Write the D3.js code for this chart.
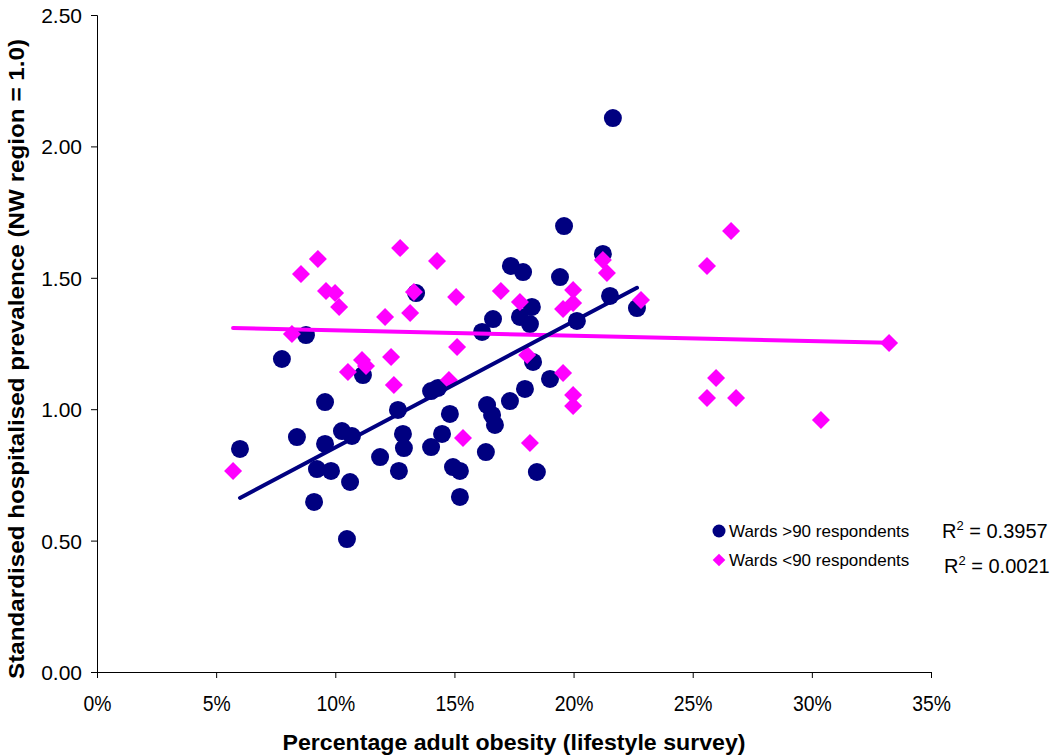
<!DOCTYPE html>
<html>
<head>
<meta charset="utf-8">
<script src="https://cdn.jsdelivr.net/npm/d3@7"></script>
<style>
  html, body { margin: 0; padding: 0; background: #fff; }
  svg { display: block; font-family: "Liberation Sans", Arial, sans-serif; }
</style>
</head>
<body>
<svg id="chart" width="1056" height="755"></svg>
<script>
// Wards with more than 90 survey respondents: obesity share (fraction) and standardised prevalence
const largeObesity = [0.0600, 0.0776, 0.0877, 0.0839, 0.0923, 0.0911, 0.0957, 0.0957, 0.0982, 0.1028,
  0.1070, 0.1049, 0.1062, 0.1116, 0.1188, 0.1263, 0.1267, 0.1284, 0.1288, 0.1339,
  0.1402, 0.1402, 0.1431, 0.1448, 0.1481, 0.1494, 0.1523, 0.1523, 0.1616, 0.1632,
  0.1637, 0.1658, 0.1670, 0.1662, 0.1733, 0.1737, 0.1775, 0.1788, 0.1796, 0.1817,
  0.1825, 0.1830, 0.1846, 0.1901, 0.1943, 0.1960, 0.2014, 0.2123, 0.2153, 0.2165, 0.2266];
const largePrevalence = [0.849, 1.191, 1.282, 0.894, 0.772, 0.647, 1.027, 0.868, 0.765, 0.917,
  0.898, 0.506, 0.723, 1.130, 0.818, 0.997, 0.765, 0.906, 0.852, 1.442,
  0.856, 1.069, 1.081, 0.906, 0.982, 0.780, 0.765, 0.666, 1.294, 0.837,
  1.016, 0.978, 0.940, 1.343, 1.031, 1.545, 1.351, 1.522, 1.077, 1.324,
  1.389, 1.180, 0.761, 1.115, 1.503, 1.697, 1.336, 1.591, 1.431, 2.108, 1.385];

// Wards with fewer than 90 survey respondents
const smallObesity = [0.0571, 0.0818, 0.0856, 0.0927, 0.0961, 0.0999, 0.1016, 0.1053, 0.1112, 0.1129,
  0.1209, 0.1234, 0.1246, 0.1272, 0.1314, 0.1330, 0.1427, 0.1477, 0.1507, 0.1511,
  0.1536, 0.1695, 0.1775, 0.1805, 0.1817, 0.1956, 0.1956, 0.1998, 0.1998, 0.1998,
  0.1998, 0.2123, 0.2140, 0.2283, 0.2560, 0.2661, 0.2598, 0.2560, 0.2682, 0.3038, 0.3324];
const smallPrevalence = [0.765, 1.286, 1.514, 1.572, 1.450, 1.442, 1.389, 1.142, 1.187, 1.164,
  1.351, 1.199, 1.092, 1.613, 1.366, 1.446, 1.564, 1.111, 1.427, 1.237,
  0.890, 1.450, 1.408, 1.206, 0.871, 1.138, 1.381, 1.404, 1.454, 1.054,
  1.012, 1.568, 1.518, 1.416, 1.545, 1.678, 1.119, 1.043, 1.043, 0.959, 1.252];

const xTicks = [0, 0.05, 0.10, 0.15, 0.20, 0.25, 0.30, 0.35];
const yTicks = [0, 0.5, 1.0, 1.5, 2.0, 2.5];

const seriesNames = ["Wards >90 respondents", "Wards <90 respondents"];
const rSquaredLabels = ["0.3957", "0.0021"];
const xTitle = "Percentage adult obesity (lifestyle survey)";
const yTitle = "Standardised hospitalised prevalence (NW region = 1.0)";

const NAVY = "#000080", MAGENTA = "#FF00FF";

const svg = d3.select("#chart");
const x = d3.scaleLinear().domain([0, 0.35]).range([97, 931]);
const y = d3.scaleLinear().domain([0, 2.5]).range([672, 15]);

// Axes
const xAxis = svg.append("g").attr("transform", `translate(0,${y(0)})`)
  .call(d3.axisBottom(x).tickValues(xTicks).tickFormat(d3.format(".0%")).tickSize(6).tickPadding(17));
const yAxis = svg.append("g").attr("transform", `translate(${x(0)},0)`)
  .call(d3.axisLeft(y).tickValues(yTicks).tickFormat(d3.format(".2f")).tickSize(6).tickPadding(9));

[xAxis, yAxis].forEach(g => {
  g.select(".domain").attr("stroke", "#000").attr("stroke-width", 1);
  g.selectAll(".tick line").attr("stroke", "#000");
  g.selectAll("text").attr("fill", "#000").attr("font-family", "Liberation Sans, Arial, sans-serif");
});
yAxis.selectAll("text").attr("font-size", 21).attr("dy", "0.36em");
xAxis.selectAll("text").attr("font-size", 22)
  .attr("transform", "scale(0.88,1)")
  .attr("x", 0);

// Axis titles
svg.append("text").attr("x", 514).attr("y", 750).attr("text-anchor", "middle")
  .attr("font-size", 22).attr("font-weight", "bold")
  .attr("textLength", 463).attr("lengthAdjust", "spacingAndGlyphs").text(xTitle);
svg.append("text").attr("transform", `translate(24,359) rotate(-90)`).attr("text-anchor", "middle")
  .attr("font-size", 22).attr("font-weight", "bold")
  .attr("textLength", 640).attr("lengthAdjust", "spacingAndGlyphs").text(yTitle);

// Least-squares trend line
function fit(xs, ys) {
  const n = xs.length, mx = d3.mean(xs), my = d3.mean(ys);
  let sxy = 0, sxx = 0;
  for (let i = 0; i < n; i++) { sxy += (xs[i] - mx) * (ys[i] - my); sxx += (xs[i] - mx) ** 2; }
  const b = sxy / sxx, a = my - b * mx;
  const [x0, x1] = d3.extent(xs);
  return [[x0, a + b * x0], [x1, a + b * x1]];
}

const large = largeObesity.map((v, i) => ({ x: v, y: largePrevalence[i] }));
const small = smallObesity.map((v, i) => ({ x: v, y: smallPrevalence[i] }));

svg.append("g").selectAll("circle").data(large).join("circle")
  .attr("cx", d => x(d.x)).attr("cy", d => y(d.y)).attr("r", 9).attr("fill", NAVY);

const diamond = d3.symbol().type(d3.symbolSquare).size(162);
svg.append("g").selectAll("path").data(small).join("path")
  .attr("d", diamond)
  .attr("transform", d => `translate(${x(d.x)},${y(d.y)}) rotate(45)`)
  .attr("fill", MAGENTA);

const line = d3.line().x(d => x(d[0])).y(d => y(d[1]));
svg.append("path").attr("d", line(fit(smallObesity, smallPrevalence)))
  .attr("stroke", MAGENTA).attr("stroke-width", 4).attr("stroke-linecap", "round").attr("fill", "none");
svg.append("path").attr("d", line(fit(largeObesity, largePrevalence)))
  .attr("stroke", NAVY).attr("stroke-width", 4).attr("stroke-linecap", "round").attr("fill", "none");

// Legend
const legend = svg.append("g");
legend.append("circle").attr("cx", 719).attr("cy", 531).attr("r", 6.5).attr("fill", NAVY);
legend.append("path").attr("d", d3.symbol().type(d3.symbolSquare).size(80))
  .attr("transform", "translate(719,560) rotate(45)").attr("fill", MAGENTA);
legend.append("text").attr("x", 729).attr("y", 537).attr("font-size", 17).text(seriesNames[0]);
legend.append("text").attr("x", 729).attr("y", 566).attr("font-size", 17).text(seriesNames[1]);

// R-squared annotations
function rLabel(xp, yp, val) {
  const t = svg.append("text").attr("x", xp).attr("y", yp).attr("font-size", 20);
  t.append("tspan").text("R");
  t.append("tspan").attr("font-size", 13).attr("dy", -8).text("2");
  t.append("tspan").attr("dy", 8).text(" = " + val);
}
rLabel(942, 538, rSquaredLabels[0]);
rLabel(944, 573, rSquaredLabels[1]);
</script>
</body>
</html>
